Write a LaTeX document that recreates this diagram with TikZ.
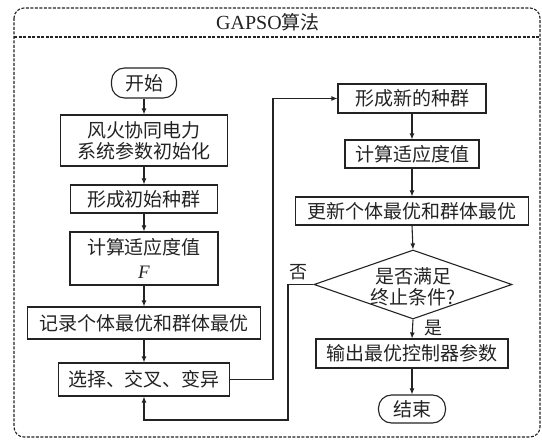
\documentclass[tikz,border=0pt]{standalone}
\usepackage{fontspec}
\setmainfont{Liberation Serif}
\newfontfamily\cjk{Noto Sans CJK SC}
\usetikzlibrary{arrows.meta,shapes.geometric}
\definecolor{ink}{RGB}{35,35,35}
\tikzset{
  box/.style={draw=ink, text=ink, line width=1.1pt, inner sep=0pt, align=center,
    font=\cjk\fontsize{19}{21}\selectfont},
  term/.style={box, rounded corners=13pt},
  arr/.style={draw=ink, line width=1.1pt, -{Latex[length=6pt,width=5pt]}},
  line/.style={draw=ink, line width=1.1pt},
  frame/.style={draw=ink, line width=1.1pt, dash pattern=on 3pt off 1.5pt},
  lab/.style={text=ink, inner sep=0pt, font=\cjk\fontsize{18}{20}\selectfont},
}
\begin{document}
\begin{tikzpicture}[x=1pt,y=-1pt]
\useasboundingbox (0,0) rectangle (542,441);
% frame
\draw[frame, rounded corners=10pt] (14,8) rectangle (540,437);
\draw[frame] (14,37) -- (540,37);
\node[text=ink, font=\fontsize{20}{22}\selectfont] (title) at (268,22) {GAPSO{\cjk\fontsize{19}{22}\selectfont 算法}};
% left column
\node[term, minimum width=65pt, minimum height=30pt] (start) at (144,83) {开始};
\node[box, minimum width=167pt, minimum height=51pt] (init) at (144,140.5) {风火协同电力\\系统参数初始化};
\node[box, minimum width=147pt, minimum height=28pt] (pop) at (144,199) {形成初始种群};
\node[box, minimum width=148pt, minimum height=53pt] (fit) at (144,258.5) {计算适应度值\\[3pt]{\rmfamily\itshape F}};
\node[box, minimum width=233pt, minimum height=32pt] (rec) at (144,323) {记录个体最优和群体最优};
\node[box, minimum width=171pt, minimum height=33pt] (sel) at (144,379.5) {选择、交叉、变异};
% right column
\node[box, minimum width=148pt, minimum height=29pt] (newpop) at (412,98.5) {形成新的种群};
\node[box, minimum width=134pt, minimum height=28pt] (fit2) at (412,154) {计算适应度值};
\node[box, minimum width=233pt, minimum height=28pt] (upd) at (412,211) {更新个体最优和群体最优};
\node[draw=ink, line width=1.1pt, shape=diamond, aspect=2.87, inner sep=0pt,
      minimum width=198pt, minimum height=69pt] (dia) at (413,284.5) {};
\node[box, draw=none] (diatext) at (413,287) {是否满足\\终止条件?};
\node[box, minimum width=192pt, minimum height=29pt] (out) at (412,353.5) {输出最优控制器参数};
\node[term, minimum width=67pt, minimum height=28pt] (end) at (412,409) {结束};
% labels
\node[lab] (no) at (298,272) {否};
\node[lab] (yes) at (433,328) {是};
% helper coordinates
\coordinate (rx) at (273,0);
\coordinate (lx) at (288,420);
% connectors
\draw[arr] (start) -- (init);
\draw[arr] (init) -- (pop);
\draw[arr] (pop) -- (fit);
\draw[arr] (fit) -- (rec);
\draw[arr] (rec) -- (sel);
\draw[arr] (sel.east) -- (sel.east -| rx) |- (newpop.west);
\draw[arr] (newpop) -- (fit2);
\draw[arr] (fit2) -- (upd);
\draw[arr] (upd.south) -- (dia.north);
\draw[arr] (dia.south) -- (out.north);
\draw[arr] (out) -- (end);
\draw[arr] (dia.west) -- (dia.west -| lx) -- (lx) -- (lx -| sel.south) -- (sel.south);
\end{tikzpicture}
\end{document}
